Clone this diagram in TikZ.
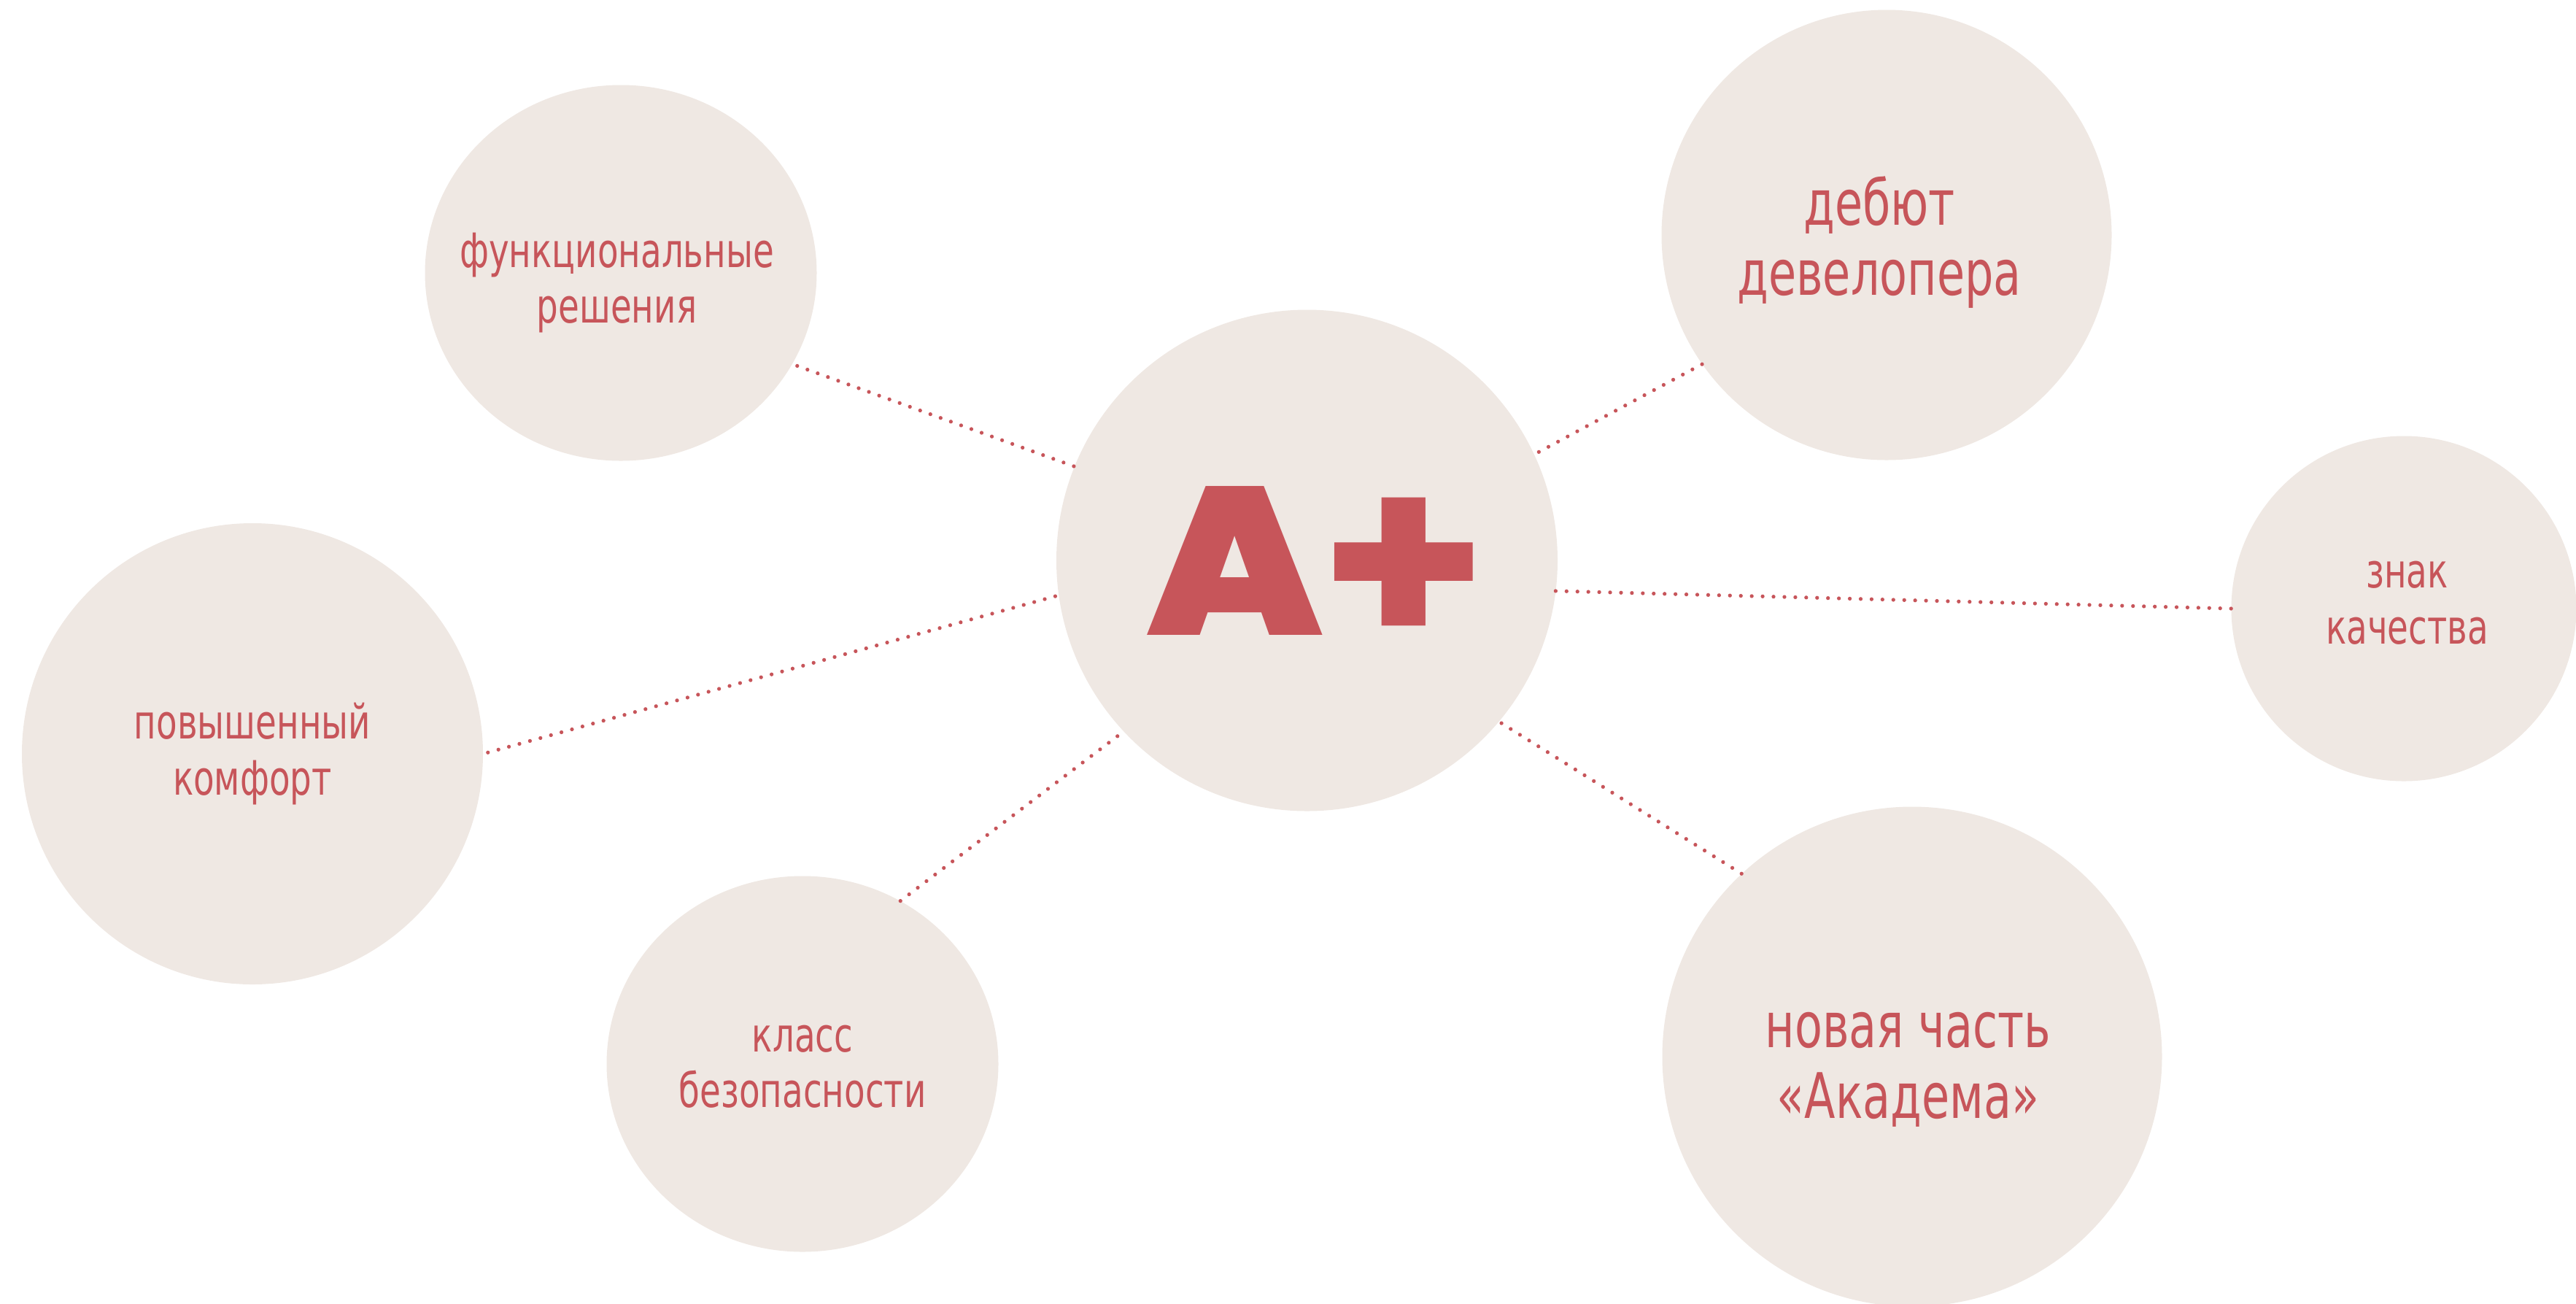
\documentclass[tikz,border=0pt]{standalone}
\usepackage{fontspec}
\setmainfont[FakeStretch=0.72]{DejaVu Sans}
\newfontfamily\heavyfont[UprightFont=* Black,FakeStretch=1.08]{Poppins}
\newfontfamily\plusfont[UprightFont=* Bold,FakeStretch=1.08]{Poppins}
\usepackage{tikz}
\usetikzlibrary{shapes.geometric}
\definecolor{bubblefill}{HTML}{EFE8E3}
\definecolor{brandred}{HTML}{C7555A}
\tikzstyle{bubble} = [circle, inner sep=0pt, fill=bubblefill]
\tikzstyle{oval} = [ellipse, inner sep=0pt, fill=bubblefill, minimum width=10.74cm, minimum height=10.3cm]
\tikzstyle{smalltext} = [text=brandred, align=center, font=\fontsize{37}{43.5}\selectfont]
\tikzstyle{bigtext} = [text=brandred, align=center, font=\fontsize{49}{55}\selectfont]
\tikzstyle{link} = [brandred, line width=3pt, line cap=round, dash pattern=on 0pt off 8.5pt]
\begin{document}
\begin{tikzpicture}[node distance=2cm]
\useasboundingbox (0,0) rectangle (70.62,-35.72);
\node (hub) [bubble, minimum size=13.74cm] at (35.83,-15.36) {};
\node (func) [oval, left of=hub, xshift=-16.81cm, yshift=7.88cm] {};
\node (safety) [oval, left of=hub, xshift=-11.83cm, yshift=-13.8cm] {};
\node (comfort) [bubble, minimum size=12.64cm, left of=hub, xshift=-26.91cm, yshift=-5.3cm] {};
\node (debut) [bubble, minimum size=12.34cm, right of=hub, xshift=13.89cm, yshift=8.92cm] {};
\node (mark) [bubble, minimum size=9.46cm, right of=hub, xshift=28.07cm, yshift=-1.32cm] {};
\node (part) [bubble, minimum size=13.7cm, right of=hub, xshift=14.59cm, yshift=-13.6cm] {};
\node (hubtext) [text=brandred, xshift=0.3cm, yshift=-0.21cm] at (hub) {\heavyfont\fontsize{164}{164}\selectfont A\hspace{-0.11cm}\plusfont\fontsize{196}{196}\selectfont\raisebox{-0.4cm}{+}};
\node (functext) [smalltext, xshift=-0.11cm, yshift=-0.27cm] at (func) {функциональные\\решения};
\node (safetytext) [smalltext, yshift=-0.07cm] at (safety) {класс\\безопасности};
\node (comforttext) [smalltext] at (comfort) {повышенный\\комфорт};
\node (debuttext) [bigtext, xshift=-0.2cm, yshift=-0.2cm] at (debut) {дебют\\девелопера};
\node (marktext) [smalltext, xshift=0.09cm, yshift=0.16cm] at (mark) {знак\\качества};
\node (parttext) [bigtext, xshift=-0.11cm, yshift=-0.36cm] at (part) {новая часть\\«Академа»};
\draw [link, shorten <=4pt] (func.-28) -- (hub.158);
\draw [link] (debut.215.3) -- (hub.25.2);
\draw [link, shorten >=-4pt] (mark.180) -- (hub.-7);
\draw [link] (part.133.7) -- (hub.-40.7);
\draw [link] (safety.59.7) -- (hub.223.3);
\draw [link, shorten <=3.8pt] (comfort.0.5) -- (hub.188.6);
\end{tikzpicture}
\end{document}
